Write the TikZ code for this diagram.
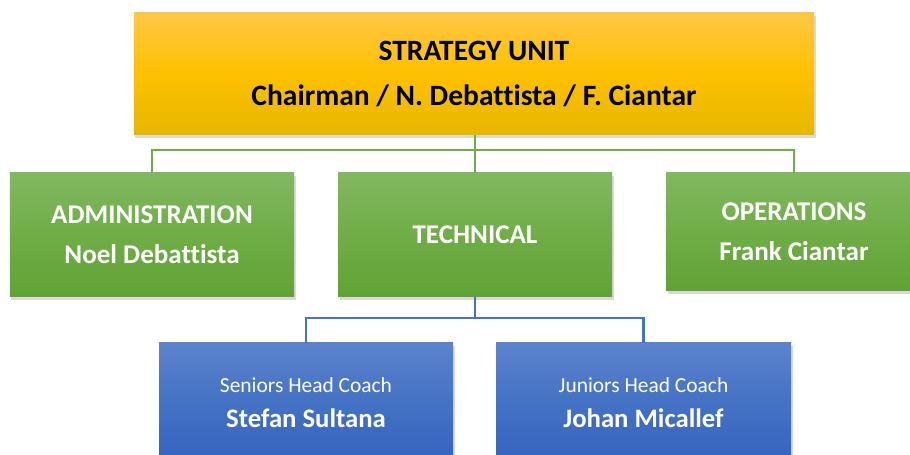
\documentclass[tikz,border=0pt]{standalone}
\usepackage{fontspec}
\setmainfont[Ligatures=NoCommon]{Carlito}
\usepackage{xcolor}
\usetikzlibrary{shadows}
\usetikzlibrary{calc}

\definecolor{goldtop}{HTML}{FFC746}
\definecolor{goldmid}{HTML}{FFC000}
\definecolor{goldbot}{HTML}{E5B700}
\definecolor{leaftop}{HTML}{81B861}
\definecolor{leafmid}{HTML}{70AD47}
\definecolor{leafbot}{HTML}{61A235}
\definecolor{seatop}{HTML}{5C82CC}
\definecolor{seamid}{HTML}{4472C4}
\definecolor{seabot}{HTML}{3562BE}

\begin{document}
\begin{tikzpicture}[
    box/.style={rectangle, inner sep=0pt, align=center,
        drop shadow={shadow xshift=0.03cm, shadow yshift=-0.07cm, opacity=0.3}},
    unitbox/.style={box, top color=goldtop, bottom color=goldbot, middle color=goldmid,
        text=black, font=\bfseries\fontsize{16.8}{26}\selectfont},
    deptbox/.style={box, top color=leaftop, bottom color=leafbot, middle color=leafmid,
        text=white, font=\bfseries\fontsize{15.4}{22.8}\selectfont},
    coachbox/.style={box, top color=seatop, bottom color=seabot, middle color=seamid,
        text=white, font=\fontsize{15.2}{20}\selectfont},
    greenline/.style={draw=leafmid, line width=1.6pt},
    blueline/.style={draw=seamid, line width=1.6pt}
]
    \useasboundingbox (0,0) rectangle (18.2,-9.1);
    \clip (0,0) rectangle (18.2,-9.1);

    \node[unitbox, minimum width=13.6cm, minimum height=2.44cm] (unit) at (9.48,-1.48)
        {STRATEGY UNIT\\Chairman / N. Debattista / F. Ciantar};

    \node[deptbox, minimum width=5.68cm, minimum height=2.48cm] (admin) at (3.04,-4.70)
        {ADMINISTRATION\\Noel Debattista};
    \node[deptbox, minimum width=5.48cm, minimum height=2.48cm] (tech) at (9.50,-4.70)
        {TECHNICAL};
    \node[deptbox, minimum width=5.12cm, minimum height=2.36cm] (ops) at (15.88,-4.64)
        {OPERATIONS\\Frank Ciantar};

    \node[coachbox, minimum width=5.88cm, minimum height=2.40cm] (seniors) at (6.12,-8.06)
        {{\fontsize{12.2}{20}\selectfont Seniors Head Coach}\\{\bfseries Stefan Sultana}};
    \node[coachbox, minimum width=5.90cm, minimum height=2.40cm] (juniors) at (12.87,-8.06)
        {{\fontsize{12.2}{20}\selectfont Juniors Head Coach}\\{\bfseries Johan Micallef}};

    % connectors
    \coordinate (gbus) at (9.50,-3.00);
    \coordinate (bbus) at (9.50,-6.36);
    \draw[greenline] (unit.south -| tech.north) -- (tech.north);
    \draw[greenline] (admin.north) |- (gbus) -| (ops.north);
    \draw[blueline] (tech.south) -- (bbus);
    \draw[blueline] (seniors.north) |- (bbus) -| (juniors.north);
\end{tikzpicture}
\end{document}
